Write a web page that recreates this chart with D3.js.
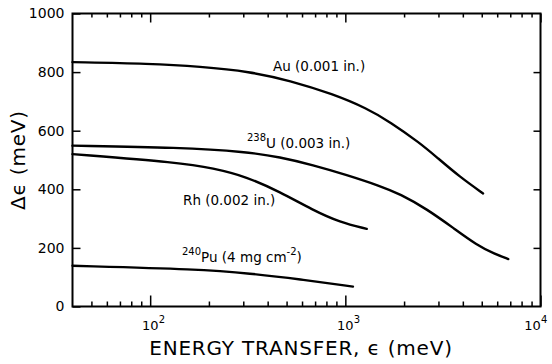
<!DOCTYPE html>
<html>
<head>
<meta charset="utf-8">
<script src="https://cdn.jsdelivr.net/npm/d3@7"></script>
<style>
  body { margin: 0; background: #fff; }
  svg { display: block; }
  text { font-family: "DejaVu Sans", sans-serif; fill: #000; }
</style>
</head>
<body>
<svg id="chart" width="552" height="364"></svg>
<script>
// Energy resolution Δϵ versus energy transfer ϵ for four foil filters
const auEnergy = [40, 100, 180, 324, 520, 865, 1291, 1693, 2413, 2935, 3864, 5080];
const auDelta  = [834, 829, 819, 802, 771, 725, 676, 630, 558, 510, 442, 386];

const uEnergy = [40, 142, 312, 462, 682, 1016, 1513, 1905, 2612, 3575, 4711, 5840, 6840];
const uDelta  = [549, 543, 528, 510, 483, 449, 411, 384, 333, 268, 210, 179, 162];

const rhEnergy = [40, 142, 210, 312, 462, 682, 939, 1287];
const rhDelta  = [520, 491, 472, 443, 391, 329, 287, 265];

const puEnergy = [40, 180, 324, 585, 1094];
const puDelta  = [139, 127, 113, 93, 68];

const xMajorTicks = [100, 1000, 10000];
const xMinorTicks = [50, 60, 70, 80, 90, 200, 300, 400, 500, 600, 700, 800, 900,
                     2000, 3000, 4000, 5000, 6000, 7000, 8000, 9000];
const yTicks = [0, 200, 400, 600, 800, 1000];
const yInnerTicks = [200, 400, 600, 800];

const margin = { left: 72.5, top: 13.5, right: 11.5, bottom: 57.5 };
const W = 552, H = 364;
const width = W - margin.left - margin.right;
const height = H - margin.top - margin.bottom;

const svg = d3.select("#chart");
const g = svg.append("g").attr("transform", `translate(${margin.left},${margin.top})`);

const x = d3.scaleLog().domain([40, 10000]).range([0, width]);
const y = d3.scaleLinear().domain([0, 1000]).range([height, 0]);

// Ticks on all four sides, pointing into the frame
function tidy(sel) {
  sel.select(".domain").remove();
  sel.selectAll(".tick line").attr("stroke", "#000").attr("stroke-width", 1.5);
}
g.append("g").attr("transform", `translate(0,${height})`)
  .call(d3.axisBottom(x).tickValues(xMajorTicks).tickSize(-11).tickFormat("")).call(tidy);
g.append("g").attr("transform", `translate(0,${height})`)
  .call(d3.axisBottom(x).tickValues(xMinorTicks).tickSize(-5).tickFormat("")).call(tidy);
g.append("g")
  .call(d3.axisTop(x).tickValues(xMajorTicks).tickSize(-9).tickFormat("")).call(tidy);
g.append("g")
  .call(d3.axisTop(x).tickValues(xMinorTicks).tickSize(-4).tickFormat("")).call(tidy);

const yAxis = g.append("g")
  .call(d3.axisLeft(y).tickValues(yTicks).tickSize(-8).tickPadding(8).tickFormat(d3.format("d")))
  .call(tidy);
yAxis.selectAll(".tick text")
  .attr("font-family", "DejaVu Sans, sans-serif").attr("font-size", 14).attr("fill", "#000");

g.append("g").attr("transform", `translate(${width},0)`)
  .call(d3.axisRight(y).tickValues(yInnerTicks).tickSize(-7).tickFormat("")).call(tidy);

// Power-of-ten labels under the major ticks (the last one kept inside the page)
const xLab = g.append("g").attr("transform", `translate(0,${height})`)
  .selectAll("g").data(xMajorTicks).join("g")
  .attr("transform", (d, i) => `translate(${x(d) - (i === xMajorTicks.length - 1 ? 8 : 0)},0)`);
xLab.append("text").attr("text-anchor", "middle").attr("y", 23.5)
  .attr("font-size", 13).text("10");
xLab.append("text").attr("x", 8.5).attr("y", 16)
  .attr("font-size", 10).text(d => Math.round(Math.log10(d)));

// Frame
g.append("rect").attr("width", width).attr("height", height)
  .attr("fill", "none").attr("stroke", "#000").attr("stroke-width", 2);

// Curves (B-spline through the sampled points keeps them smooth)
const line = d3.line().x(d => x(d[0])).y(d => y(d[1])).curve(d3.curveBasis);
const series = [
  [auEnergy, auDelta],
  [uEnergy, uDelta],
  [rhEnergy, rhDelta],
  [puEnergy, puDelta]
];
g.selectAll("path.curve").data(series).join("path")
  .attr("class", "curve")
  .attr("d", s => line(d3.zip(s[0], s[1])))
  .attr("fill", "none").attr("stroke", "#000").attr("stroke-width", 2.4)
  .attr("stroke-linecap", "round");

// Curve labels
svg.append("text").attr("x", 273).attr("y", 71).attr("font-size", 13.5)
  .text("Au (0.001 in.)");

const uLab = svg.append("text").attr("x", 247).attr("y", 148).attr("font-size", 13.5);
uLab.append("tspan").attr("font-size", 10).attr("dy", -7).text("238");
uLab.append("tspan").attr("dy", 7).text("U (0.003 in.)");

svg.append("text").attr("x", 183).attr("y", 205).attr("font-size", 13.5)
  .text("Rh (0.002 in.)");

const puLab = svg.append("text").attr("x", 182).attr("y", 262).attr("font-size", 13.5);
puLab.append("tspan").attr("font-size", 10).attr("dy", -7).text("240");
puLab.append("tspan").attr("dy", 7).text("Pu (4 mg cm");
puLab.append("tspan").attr("font-size", 10).attr("dy", -7).text("-2");
puLab.append("tspan").attr("dy", 7).text(")");

// Axis titles
svg.append("text").attr("x", 301).attr("y", 355).attr("text-anchor", "middle")
  .attr("font-size", 20).attr("letter-spacing", 0.8)
  .text("ENERGY TRANSFER, ϵ (meV)");

svg.append("text").attr("transform", "translate(25,160) rotate(-90)")
  .attr("text-anchor", "middle").attr("font-size", 20).attr("letter-spacing", 0.8)
  .text("Δϵ (meV)");
</script>
</body>
</html>
